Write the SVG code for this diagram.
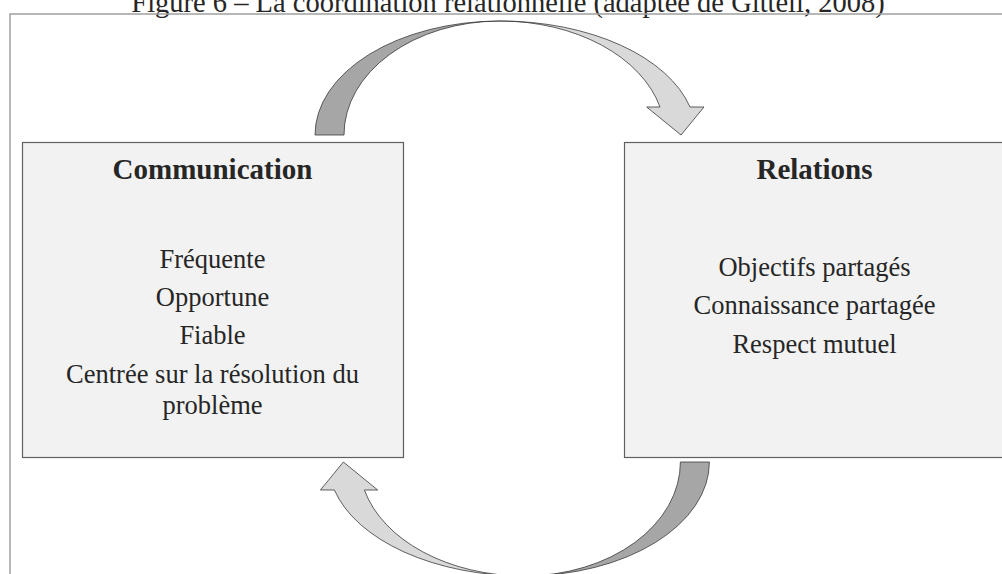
<svg xmlns="http://www.w3.org/2000/svg" width="1002" height="574" viewBox="0 0 1002 574">
<style>
.frame{fill:none;stroke:#a0a0a0;stroke-width:1.5}
.box{fill:#f2f2f2;stroke:#5f5f5f;stroke-width:1.2}
.t{font-family:"Liberation Serif","Times New Roman",serif;fill:#262626;text-anchor:middle}
.title{font-size:28.5px}
.h{font-size:29px;font-weight:bold}
.b{font-size:26.5px}
.dark{fill:#a6a6a6;stroke:#3a3a3a;stroke-width:0.8;stroke-linejoin:miter}
.light{fill:#d9d9d9;stroke:#3a3a3a;stroke-width:0.8;stroke-linejoin:miter}
</style>
<defs>
<g id="curvedArrow">
<path class="dark" d="M315,135 A185,114 0 0 1 500,21 A156,114 0 0 0 344,135 Z"/>
<path class="light" d="M500,21 A196,114 0 0 1 690,107 L704,107 L681,135 L646.7,107 L660,107 A165,114 0 0 0 500,21 Z"/>
</g>
</defs>
<rect width="1002" height="574" fill="#ffffff"/>
<text class="t title" x="508" y="11.5">Figure 6 – La coordination relationnelle (adaptée de Gittell, 2008)</text>
<rect class="frame" x="10" y="14" width="1010" height="600"/>
<g id="connectors">
<use href="#curvedArrow"/>
<use href="#curvedArrow" transform="rotate(180 512.2 298.5)"/>
</g>
<g id="communication">
<rect class="box" x="22.5" y="142.5" width="381" height="315"/>
<text class="t h" x="212.5" y="179.3">Communication</text>
<text class="t b" x="212.5" y="267.7">Fréquente</text>
<text class="t b" x="212.5" y="305.9">Opportune</text>
<text class="t b" x="212.5" y="344.3">Fiable</text>
<text class="t b" x="212.5" y="383.3">Centrée sur la résolution du</text>
<text class="t b" x="212.5" y="414.3">problème</text>
</g>
<g id="relations">
<rect class="box" x="624.5" y="142.5" width="381" height="315"/>
<text class="t h" x="814.5" y="179.3">Relations</text>
<text class="t b" x="814.5" y="276">Objectifs partagés</text>
<text class="t b" x="814.5" y="314.3">Connaissance partagée</text>
<text class="t b" x="814.5" y="352.7">Respect mutuel</text>
</g>
</svg>
